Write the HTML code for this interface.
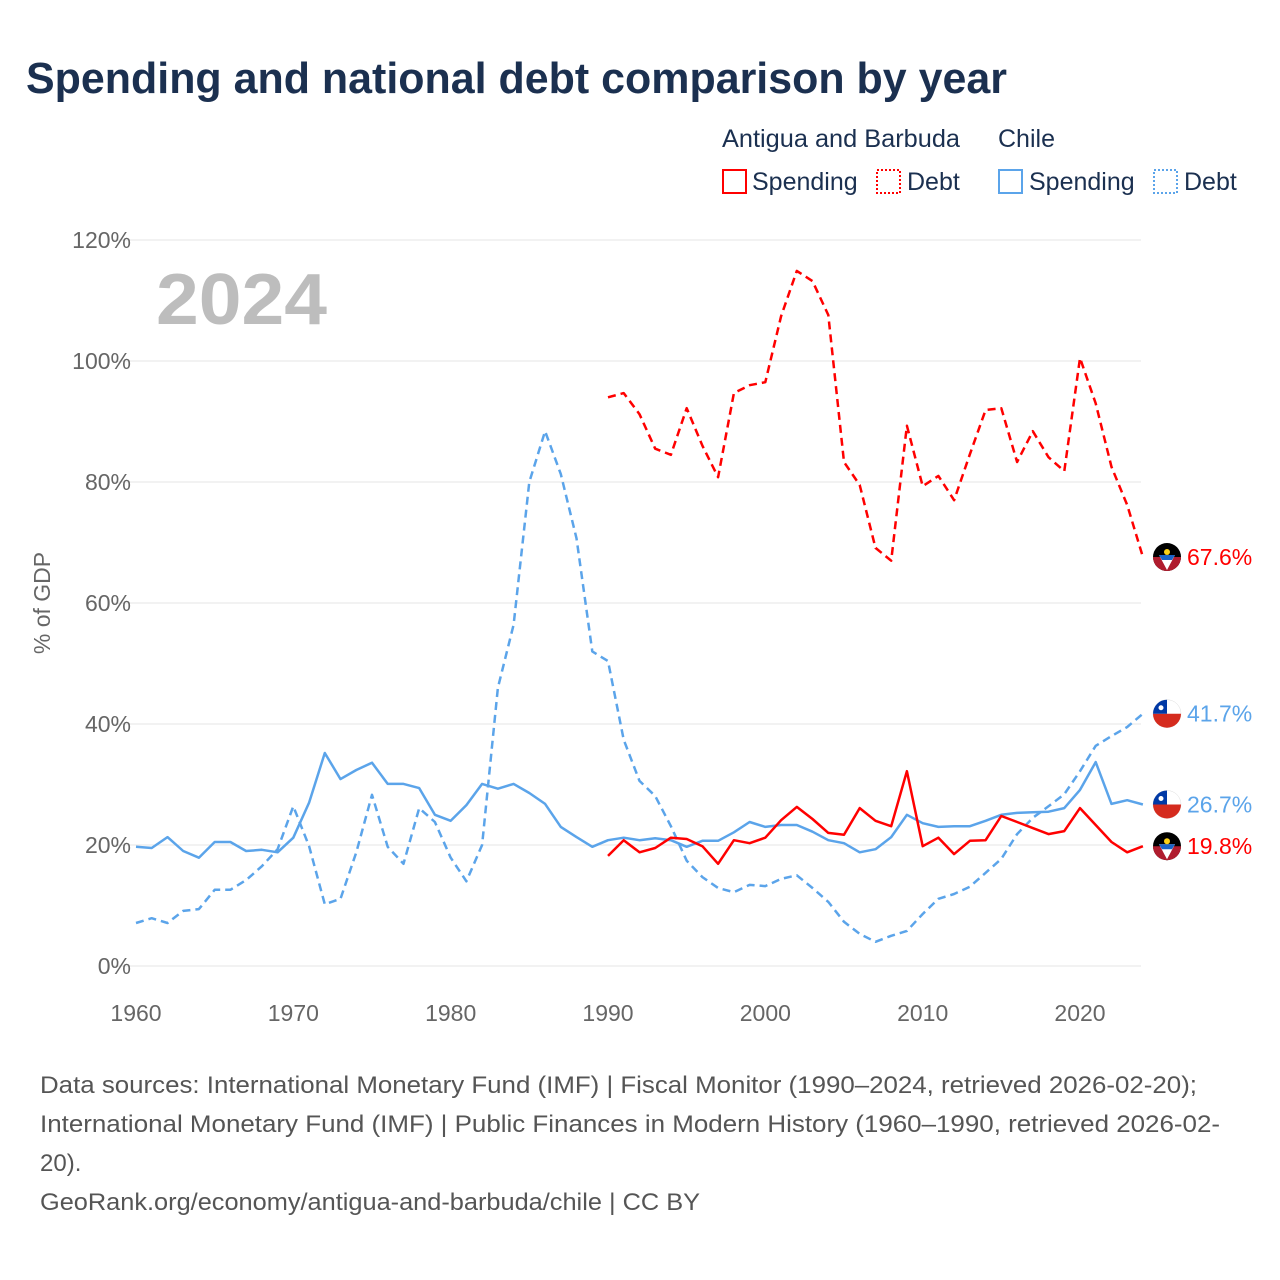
<!DOCTYPE html>
<html><head><meta charset="utf-8"><style>
body{margin:0;background:#fff;font-family:"Liberation Sans",sans-serif}
#wrap{position:relative;width:1280px;height:1280px;overflow:hidden}
</style></head><body>
<div id="wrap">
<svg id="svg" width="1280" height="1280" xmlns="http://www.w3.org/2000/svg">
<text x="26" y="93" font-size="44" font-weight="bold" fill="#1b3050" textLength="981" lengthAdjust="spacingAndGlyphs">Spending and national debt comparison by year</text>
<g font-size="25" fill="#1b3050">
<text x="722" y="147" textLength="238" lengthAdjust="spacingAndGlyphs">Antigua and Barbuda</text>
<text x="998" y="147">Chile</text>
<rect x="723" y="170" width="23" height="23" fill="none" stroke="#f00" stroke-width="2"/>
<text x="752" y="190">Spending</text>
<rect x="877" y="170" width="23" height="23" fill="none" stroke="#f00" stroke-width="2" stroke-dasharray="2,2"/>
<text x="907" y="190">Debt</text>
<rect x="999" y="170" width="23" height="23" fill="none" stroke="#5ba4ea" stroke-width="2"/>
<text x="1029" y="190">Spending</text>
<rect x="1154" y="170" width="23" height="23" fill="none" stroke="#5ba4ea" stroke-width="2" stroke-dasharray="2,2"/>
<text x="1184" y="190">Debt</text>
</g>
<text x="156" y="324" font-size="72" font-weight="bold" fill="#bdbdbd" textLength="171" lengthAdjust="spacingAndGlyphs">2024</text>
<text transform="translate(50,603) rotate(-90)" text-anchor="middle" font-size="23" fill="#666">% of GDP</text>
<g id="grid"></g><g id="series"></g><g id="ends"></g>
<g font-size="24" fill="#555">
<text x="40" y="1093" textLength="1157" lengthAdjust="spacingAndGlyphs">Data sources: International Monetary Fund (IMF) | Fiscal Monitor (1990–2024, retrieved 2026-02-20);</text>
<text x="40" y="1132" textLength="1180" lengthAdjust="spacingAndGlyphs">International Monetary Fund (IMF) | Public Finances in Modern History (1960–1990, retrieved 2026-02-</text>
<text x="40" y="1171">20).</text>
<text x="40" y="1210" textLength="660" lengthAdjust="spacingAndGlyphs">GeoRank.org/economy/antigua-and-barbuda/chile | CC BY</text>
</g>
</svg></div>
<script>
const yTicks=[0,20,40,60,80,100,120];
const xTicks=[1960,1970,1980,1990,2000,2010,2020];
const chileYears0=1960, antiguaYears0=1990;
const chileSpending=[19.7,19.5,21.3,19,17.9,20.5,20.5,19,19.2,18.8,21.2,27,35.2,30.9,32.4,33.6,30.1,30.1,29.4,25,24,26.6,30.1,29.3,30.1,28.6,26.8,23,21.3,19.7,20.8,21.2,20.8,21.1,20.8,19.7,20.7,20.7,22.1,23.8,23,23.3,23.3,22.2,20.8,20.3,18.8,19.3,21.3,25,23.6,23,23.1,23.1,24,25,25.3,25.4,25.5,26.1,29.1,33.7,26.8,27.4,26.7];
const chileDebt=[7.1,7.9,7.1,9.1,9.4,12.6,12.6,14.2,16.5,19.3,26.4,19.8,10.2,11.1,18.8,28.3,19.7,16.9,26.1,23.8,17.9,14,20,46,56.4,80,88.4,81.3,70.7,52,50.4,37.4,30.6,28.1,23.1,17.4,14.7,12.9,12.2,13.4,13.2,14.4,15,12.9,10.6,7.3,5.3,4,5,5.8,8.6,11.1,11.9,13.1,15.4,17.7,21.8,24.5,26.4,28.4,32.2,36.4,38,39.5,41.7];
const antiguaSpending=[18.2,20.8,18.8,19.5,21.2,21,19.8,16.9,20.8,20.3,21.2,24.1,26.3,24.3,22,21.7,26.1,24,23.1,32.2,19.8,21.2,18.5,20.7,20.8,24.8,23.8,22.8,21.8,22.3,26.1,23.3,20.5,18.8,19.8];
const antiguaDebt=[94,94.7,91.2,85.5,84.5,92.2,86,80.8,94.7,96,96.5,107.4,114.9,113.2,107.6,83.3,79.5,69.1,67,89.3,79.3,81,77,84.6,91.9,92.2,83.3,88.4,84.1,81.8,100.5,93,82.5,76.2,67.6];
const endLabels=["67.6%","41.7%","26.7%","19.8%"];
const X=y=>136+(y-1960)*(944/60);
const Y=v=>966-v*6.05;
const NS="http://www.w3.org/2000/svg";
function mk(t,a,p){const e=document.createElementNS(NS,t);for(const k in a)e.setAttribute(k,a[k]);p.appendChild(e);return e;}
const grid=document.getElementById('grid');
yTicks.forEach(v=>{
 const l=mk('line',{x1:112,x2:1141,y1:Y(v),y2:Y(v),stroke:'#e6e6e6','stroke-width':1},grid);
 
 
 const t=mk('text',{x:131,y:Y(v)+8,'text-anchor':'end','font-size':23,fill:'#666'},grid);
 t.textContent=v+'%';
 
 
});
xTicks.forEach(y=>{
 const t=mk('text',{x:X(y),y:1021,'text-anchor':'middle','font-size':23,fill:'#666'},grid);
 t.textContent=y;
 
 
});
const ser=document.getElementById('series');
function line(arr,y0,color,dash,name){
 const d=arr.map((v,i)=>(i?'L':'M')+X(y0+i).toFixed(1)+','+Y(v).toFixed(1)).join('');
 const p=mk('path',{d:d,fill:'none',stroke:color,'stroke-width':2.5,'stroke-dasharray':dash,'stroke-linejoin':'round'},ser);
 
 
}
line(chileDebt,chileYears0,'#5ba4ea','8,5','chile-debt-line');
line(chileSpending,chileYears0,'#5ba4ea','none','chile-spending-line');
line(antiguaDebt,antiguaYears0,'#f00','8,5','antigua-debt-line');
line(antiguaSpending,antiguaYears0,'#f00','none','antigua-spending-line');
const ends=document.getElementById('ends');
const endSpecs=[[antiguaDebt[antiguaDebt.length-1],'#f00','ag'],[chileDebt[chileDebt.length-1],'#5ba4ea','cl'],[chileSpending[chileSpending.length-1],'#5ba4ea','cl'],[antiguaSpending[antiguaSpending.length-1],'#f00','ag']];
endSpecs.forEach((s,i)=>{
 const cy=Y(s[0]),cx=1167;
 const g=mk('g',{},ends);
 
 
 if(s[2]==='ag'){
  mk('circle',{cx:cx,cy:cy,r:14,fill:'#000'},g);
  mk('path',{d:`M${cx-14},${cy}A14,14 0 0 0 ${cx+14},${cy}Z`,fill:'#b01c2e'},g);
  mk('path',{d:`M${cx-8},${cy-2}L${cx+8},${cy-2}L${cx},${cy+13}Z`,fill:'#fff'},g);
  mk('path',{d:`M${cx-8},${cy-2}L${cx+8},${cy-2}L${cx+5},${cy+3}L${cx-5},${cy+3}Z`,fill:'#1a64c8'},g);
  mk('circle',{cx:cx,cy:cy-5,r:3,fill:'#fcd116'},g);
 }else{
  mk('circle',{cx:cx,cy:cy,r:14,fill:'#fff',stroke:'#ddd','stroke-width':0.5},g);
  mk('path',{d:`M${cx-14},${cy}A14,14 0 0 0 ${cx+14},${cy}Z`,fill:'#d52b1e'},g);
  mk('path',{d:`M${cx},${cy-14}A14,14 0 0 0 ${cx-14},${cy}L${cx},${cy}Z`,fill:'#0039a6'},g);
  mk('circle',{cx:cx-6,cy:cy-6,r:2.5,fill:'#fff'},g);
 }
 const t=mk('text',{x:1187,y:cy+8,'font-size':23,fill:s[1]},ends);
 t.textContent=endLabels[i];
 
 
});
</script>
</body></html>
